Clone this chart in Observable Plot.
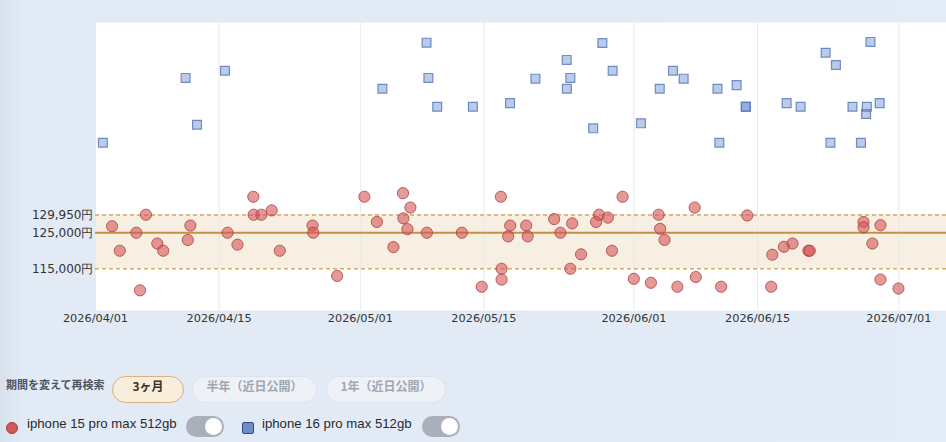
<!DOCTYPE html>
<html lang="ja">
<head>
<meta charset="utf-8">
<script src="https://cdn.jsdelivr.net/npm/d3@7"></script>
<script src="https://cdn.jsdelivr.net/npm/@observablehq/plot@0.6"></script>
<style>
  html, body { margin: 0; padding: 0; }
  body {
    width: 946px; height: 442px; overflow: hidden; position: relative;
    background: linear-gradient(to right, #d8e1eb 0px, #e2ebf5 22px, #e3ecf6 100%);
  }
  #chart { position: absolute; left: 0; top: 0; }
  .abs { position: absolute; box-sizing: border-box; }
  .period-label {
    left: 6px; top: 376px; height: 27px; line-height: 27px;
    font: bold 11px "Noto Sans CJK JP", sans-serif; color: #4b5260; white-space: nowrap;
  }
  .btn {
    top: 376px; height: 27px; border-radius: 14px; border: 1px solid #dde3ec;
    background: #eef2f7; color: #a0a6b0; text-align: center; line-height: 25px;
    font: bold 12px "Noto Sans CJK JP", sans-serif; white-space: nowrap;
  }
  .btn.active { background: #f8eedb; border-color: #d8b278; color: #3e301c; }
  .legend-text {
    top: 416px; height: 21px; line-height: 21px;
    font: 13.2px "Liberation Sans", Arial, sans-serif; color: #262a30; white-space: nowrap;
  }
  .toggle { top: 416px; width: 38px; height: 21px; border-radius: 11px; background: #a9b0bb; }
  .toggle::after {
    content: ""; position: absolute; right: 2px; top: 2px; width: 17px; height: 17px;
    border-radius: 50%; background: #fff;
  }
  .swatch-circle {
    left: 6px; top: 421.5px; width: 12px; height: 12px; border-radius: 50%;
    background: #d35a5a; border: 1px solid #9a3a3a;
  }
  .swatch-square {
    left: 242px; top: 421.5px; width: 12px; height: 12px; border-radius: 2px;
    background: #6c8dcc; border: 1px solid #2f4b80;
  }
</style>
</head>
<body>
<div id="chart"></div>

<div class="abs period-label">期間を変えて再検索</div>
<div class="abs btn active" style="left:112px;width:72px;">3ヶ月</div>
<div class="abs btn" style="left:192px;width:125px;">半年（近日公開）</div>
<div class="abs btn" style="left:326px;width:120px;">1年（近日公開）</div>

<div class="abs swatch-circle"></div>
<div class="abs legend-text" style="left:27px;">iphone 15 pro max 512gb</div>
<div class="abs toggle" style="left:186px;"></div>
<div class="abs swatch-square"></div>
<div class="abs legend-text" style="left:262px;">iphone 16 pro max 512gb</div>
<div class="abs toggle" style="left:422px;"></div>

<script>
// iPhone 15 Pro Max 512GB listings: time seen and price (yen)
const iphone15Dates = [
  "2026-04-02T21:00", "2026-04-03T18:00", "2026-04-05T15:00", "2026-04-06T01:00", "2026-04-06T17:00",
  "2026-04-08T00:00", "2026-04-08T16:00", "2026-04-11T11:00", "2026-04-11T18:00", "2026-04-15T23:00",
  "2026-04-17T02:00", "2026-04-18T21:00", "2026-04-18T22:00", "2026-04-19T19:00", "2026-04-20T23:00",
  "2026-04-21T21:00", "2026-04-25T14:00", "2026-04-25T16:00", "2026-04-28T09:00", "2026-05-01T11:00",
  "2026-05-02T21:00", "2026-05-04T18:00", "2026-05-05T20:00", "2026-05-05T21:00", "2026-05-06T08:00",
  "2026-05-06T16:00", "2026-05-08T13:00", "2026-05-12T12:00", "2026-05-14T18:00", "2026-05-16T22:00",
  "2026-05-17T00:00", "2026-05-17T00:00", "2026-05-17T18:00", "2026-05-17T23:30", "2026-05-19T19:00",
  "2026-05-19T23:00", "2026-05-22T23:00", "2026-05-23T16:00", "2026-05-24T19:00", "2026-05-25T00:00",
  "2026-05-26T00:00", "2026-05-27T17:00", "2026-05-28T01:00", "2026-05-29T01:00", "2026-05-29T12:00",
  "2026-05-30T17:00", "2026-05-31T23:30", "2026-06-02T22:00", "2026-06-03T19:00", "2026-06-03T23:00",
  "2026-06-04T11:00", "2026-06-05T22:00", "2026-06-07T21:00", "2026-06-08T00:00", "2026-06-10T21:00",
  "2026-06-13T20:00", "2026-06-16T13:00", "2026-06-16T16:00", "2026-06-17T23:30", "2026-06-18T23:00",
  "2026-06-20T18:00", "2026-06-20T22:00", "2026-06-27T00:00", "2026-06-27T00:00", "2026-06-28T00:00",
  "2026-06-28T22:00", "2026-06-28T22:00", "2026-06-30T23:00"
];
const iphone15Prices = [
  126800, 120000, 125000, 109000, 130000,
  122000, 120000, 123000, 127000, 125000,
  121700, 135000, 130000, 130000, 131200,
  120000, 127000, 125000, 113000, 135000,
  128000, 121000, 136000, 129000, 126000,
  132000, 125000, 125000, 110000, 135000,
  115000, 112000, 124000, 127000, 127000,
  124000, 128800, 125000, 115000, 127600,
  119000, 128000, 130000, 129200, 120000,
  135000, 112200, 111100, 130000, 126100,
  123000, 110000, 132000, 112700, 110000,
  129800, 110000, 118900, 121100, 122000,
  120000, 120000, 128000, 126500, 122000,
  127100, 112000, 109500
];

// iPhone 16 Pro Max 512GB listings: time seen and price (yen)
const iphone16Dates = [
  "2026-04-01T20:00", "2026-04-11T05:00", "2026-04-12T12:00", "2026-04-15T16:00", "2026-05-03T12:00",
  "2026-05-08T12:00", "2026-05-08T17:00", "2026-05-09T17:00", "2026-05-13T18:00", "2026-05-17T23:00",
  "2026-05-20T20:00", "2026-05-24T09:00", "2026-05-24T09:30", "2026-05-24T19:00", "2026-05-27T09:00",
  "2026-05-28T10:00", "2026-05-29T14:00", "2026-06-01T19:00", "2026-06-03T22:00", "2026-06-05T10:00",
  "2026-06-06T15:00", "2026-06-10T11:00", "2026-06-10T16:00", "2026-06-12T15:00", "2026-06-13T16:00",
  "2026-06-13T16:00", "2026-06-18T07:00", "2026-06-19T21:00", "2026-06-22T17:00", "2026-06-23T06:00",
  "2026-06-23T21:00", "2026-06-25T18:00", "2026-06-26T17:00", "2026-06-27T07:00", "2026-06-27T09:00",
  "2026-06-27T19:00", "2026-06-28T20:00"
];
const iphone16Prices = [
  150000, 168000, 155000, 170000, 165000,
  177800, 168000, 160000, 160000, 161000,
  167800, 173000, 165000, 168000, 154000,
  177700, 170000, 155400, 165000, 170000,
  167800, 165000, 150000, 166000, 160000,
  160000, 161000, 160000, 175000, 150000,
  171600, 160000, 150000, 158000, 160000,
  178000, 161000
];

// Reference band: lower bound, median, upper bound (yen)
const bandLow = 115000;
const bandMedian = 125000;
const bandHigh = 129950;

// Axis ticks
const xTickDates = ["2026-04-01", "2026-04-15", "2026-05-01", "2026-05-15", "2026-06-01", "2026-06-15", "2026-07-01"];
const yTickValues = [bandLow, bandMedian, bandHigh];

const parseTime = d3.utcParse("%Y-%m-%dT%H:%M");
const parseDay = d3.utcParse("%Y-%m-%d");

const rows15 = iphone15Dates.map((d, i) => ({date: parseTime(d), price: iphone15Prices[i]}));
const rows16 = iphone16Dates.map((d, i) => ({date: parseTime(d), price: iphone16Prices[i]}));
const xTicks = xTickDates.map(parseDay);

const yen = d => d3.format(",")(d) + "円";

const chart = Plot.plot({
  width: 946,
  height: 335,
  marginTop: 22,
  marginBottom: 25,
  marginLeft: 95,
  marginRight: 0,
  style: {background: "transparent", color: "#333"},
  x: {type: "utc", domain: [parseTime("2026-04-01T00:00"), parseTime("2026-07-06T09:36")]},
  y: {domain: [103400, 183400]},
  marks: [
    Plot.frame({fill: "white", stroke: "none"}),
    Plot.rectY([{lo: bandLow, hi: bandHigh}], {y1: "lo", y2: "hi", fill: "#f8efe3"}),
    Plot.ruleX(xTicks, {stroke: "#e9e9e9", strokeWidth: 1}),
    Plot.ruleY([bandLow, bandHigh], {stroke: "#d3a766", strokeWidth: 1.5, strokeDasharray: "4,3"}),
    Plot.ruleY([bandMedian], {stroke: "#c98f47", strokeWidth: 2}),
    Plot.dot(rows16, {
      x: "date", y: "price", symbol: "square", r: 5,
      fill: "#6a8cca", fillOpacity: 0.45, stroke: "#5376b6", strokeOpacity: 0.8, strokeWidth: 1.2
    }),
    Plot.dot(rows15, {
      x: "date", y: "price", r: 5.6,
      fill: "#d65555", fillOpacity: 0.6, stroke: "#a23838", strokeOpacity: 0.75, strokeWidth: 1
    }),
    Plot.axisX({
      ticks: xTicks, tickFormat: d3.utcFormat("%Y/%m/%d"), tickSize: 0, tickPadding: 3.5,
      fontSize: 11.3, fontFamily: "DejaVu Sans", label: null
    }),
    Plot.axisY({
      ticks: yTickValues, tickFormat: yen, tickSize: 0, tickPadding: 2,
      fontSize: 12, fontFamily: "DejaVu Sans", label: null
    })
  ]
});

document.getElementById("chart").appendChild(chart);
</script>
</body>
</html>
